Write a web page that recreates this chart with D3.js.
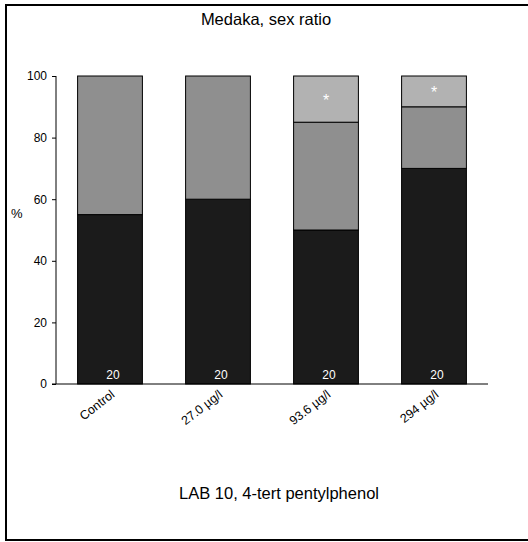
<!DOCTYPE html>
<html><head><meta charset="utf-8">
<script src="https://cdn.jsdelivr.net/npm/d3@7"></script>
<style>html,body{margin:0;background:#fff;overflow:hidden}svg{display:block;font-family:"Liberation Sans",Arial,sans-serif}</style>
</head><body>
<svg id="c" width="528" height="542"></svg>
<script>
const categories = ["Control", "27.0 µg/l", "93.6 µg/l", "294 µg/l"];
const seriesBlack = [55, 60, 50, 70];
const seriesGray = [45, 40, 35, 20];
const seriesLight = [0, 0, 15, 10];
const nLabels = ["20", "20", "20", "20"];
const starred = [false, false, true, true];
const yTicks = [0, 20, 40, 60, 80, 100];
const title = "Medaka, sex ratio";
const footer = "LAB 10, 4-tert pentylphenol";

const svg = d3.select("#c");
svg.append("path").attr("d", "M540,5H6V540H540")
  .attr("fill", "none").attr("stroke", "#000").attr("stroke-width", 2);

const x = d3.scaleBand().domain(categories).range([56, 488]).paddingInner(0.4).paddingOuter(0.2);
const y = d3.scaleLinear().domain([0, 100]).range([384, 76]);

const colors = ["#1b1b1b", "#8f8f8f", "#b2b2b2"];
const series = [seriesBlack, seriesGray, seriesLight];
const stack = categories.map((c, i) => {
  let base = 0;
  return series.map((s, k) => { const seg = {cat: c, y0: base, y1: base + s[i], k}; base += s[i]; return seg; });
});

const g = svg.append("g");
stack.forEach((segs, i) => {
  segs.filter(s => s.y1 > s.y0).forEach(s => {
    g.append("rect").attr("x", x(s.cat)).attr("width", x.bandwidth())
      .attr("y", y(s.y1)).attr("height", y(s.y0) - y(s.y1))
      .attr("fill", colors[s.k]).attr("stroke", "#000").attr("stroke-width", 1);
  });
});

// y axis
const ya = svg.append("g").attr("transform", "translate(56,0)")
  .call(d3.axisLeft(y).tickValues(yTicks).tickSize(4).tickPadding(5));
ya.select(".domain").attr("d", `M0,${y(100)}V${y(0)}`);
ya.selectAll("text").attr("font-size", 12).attr("font-family", "Liberation Sans, Arial, sans-serif");

// x axis line
svg.append("line").attr("x1", 52).attr("x2", 488).attr("y1", y(0)).attr("y2", y(0)).attr("stroke", "#000");

// x labels
categories.forEach((c, i) => {
  const cx = x(c) + x.bandwidth() / 2;
  svg.append("text").attr("transform", `translate(${cx},${y(0) + 5}) rotate(-38)`)
    .attr("text-anchor", "end").attr("dominant-baseline", "hanging").attr("font-size", 12.5).text(c);
  svg.append("text").attr("x", cx + 3).attr("y", y(0) - 5).attr("text-anchor", "middle")
    .attr("font-size", 12).attr("fill", "#fff").text(nLabels[i]);
  if (starred[i]) {
    const top = stack[i][2];
    svg.append("text").attr("x", cx).attr("y", (y(top.y0) + y(top.y1)) / 2 + 7)
      .attr("text-anchor", "middle").attr("font-size", 16).attr("fill", "#fff").text("*");
  }
});

svg.append("text").attr("x", 11).attr("y", 218).attr("font-size", 13).text("%");
svg.append("text").attr("x", 266).attr("y", 25).attr("text-anchor", "middle").attr("font-size", 16.5).text(title);
svg.append("text").attr("x", 279).attr("y", 499).attr("text-anchor", "middle").attr("font-size", 16.5).text(footer);
</script>
</body></html>
